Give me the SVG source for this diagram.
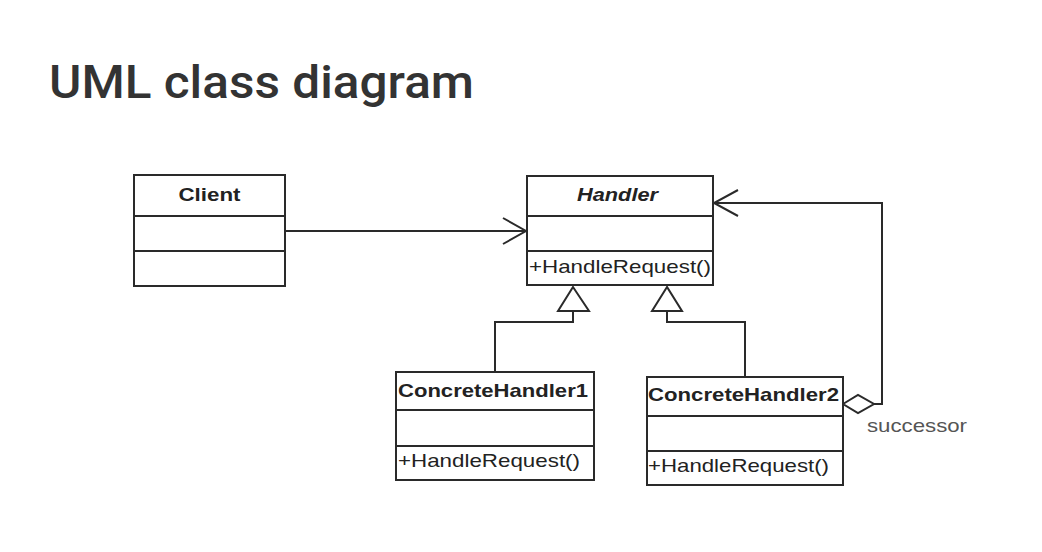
<svg xmlns="http://www.w3.org/2000/svg" width="1042" height="552" viewBox="0 0 1042 552">
<style>
.box{fill:#fff;stroke:#2a2a2a;stroke-width:2}
.div{stroke:#2a2a2a;stroke-width:2}
.ln{fill:none;stroke:#2a2a2a;stroke-width:2}
.t{font-family:"Liberation Sans",Arial,sans-serif;font-size:19px;fill:#222}
.b{font-weight:bold}
.title{font-family:Roboto,"Liberation Sans",Arial,sans-serif;font-size:46px;font-weight:500;fill:#333}
</style>
<rect width="1042" height="552" fill="#fff"/>
<text class="title" x="49" y="98" textLength="425" lengthAdjust="spacingAndGlyphs">UML class diagram</text>

<g id="connectors">
  <path class="ln" d="M285,231 H526"/>
  <path class="ln" d="M503,218 L526,231 L503,244"/>
  <path class="ln" d="M874,404 H882 V203 H714"/>
  <path class="ln" d="M738,190 L714,203 L738,216"/>
  <path class="ln" d="M573,311 V322 H495 V372"/>
  <path class="ln" d="M573,287 L558,311 H589 Z" fill="#fff"/>
  <path class="ln" d="M667,311 V322 H745 V377"/>
  <path class="ln" d="M667,287 L652,311 H682 Z" fill="#fff"/>
  <path class="ln" d="M843,404 L858,395 L874,404 L858,413 Z" style="fill:#fff"/>
  <text class="t" x="867" y="432" style="fill:#555" textLength="100" lengthAdjust="spacingAndGlyphs">successor</text>
</g>

<g id="client">
  <rect class="box" x="134" y="175" width="151" height="111"/>
  <line class="div" x1="134" y1="216" x2="285" y2="216"/>
  <line class="div" x1="134" y1="251" x2="285" y2="251"/>
  <text class="t b" x="209.5" y="201" text-anchor="middle" textLength="62" lengthAdjust="spacingAndGlyphs">Client</text>
</g>

<g id="handler">
  <rect class="box" x="527" y="176" width="186" height="109"/>
  <line class="div" x1="527" y1="216" x2="713" y2="216"/>
  <line class="div" x1="527" y1="251" x2="713" y2="251"/>
  <text class="t b" x="617.5" y="201" text-anchor="middle" font-style="italic" textLength="81" lengthAdjust="spacingAndGlyphs">Handler</text>
  <text class="t" x="529" y="273" textLength="182" lengthAdjust="spacingAndGlyphs">+HandleRequest()</text>
</g>

<g id="concrete1">
  <rect class="box" x="396" y="372" width="198" height="108"/>
  <line class="div" x1="396" y1="410" x2="594" y2="410"/>
  <line class="div" x1="396" y1="446" x2="594" y2="446"/>
  <text class="t b" x="398" y="397" textLength="190" lengthAdjust="spacingAndGlyphs">ConcreteHandler1</text>
  <text class="t" x="398" y="467" textLength="182" lengthAdjust="spacingAndGlyphs">+HandleRequest()</text>
</g>

<g id="concrete2">
  <rect class="box" x="647" y="377" width="196" height="108"/>
  <line class="div" x1="647" y1="416" x2="843" y2="416"/>
  <line class="div" x1="647" y1="451" x2="843" y2="451"/>
  <text class="t b" x="648" y="401" textLength="191" lengthAdjust="spacingAndGlyphs">ConcreteHandler2</text>
  <text class="t" x="648" y="472" textLength="181" lengthAdjust="spacingAndGlyphs">+HandleRequest()</text>
</g>
</svg>
